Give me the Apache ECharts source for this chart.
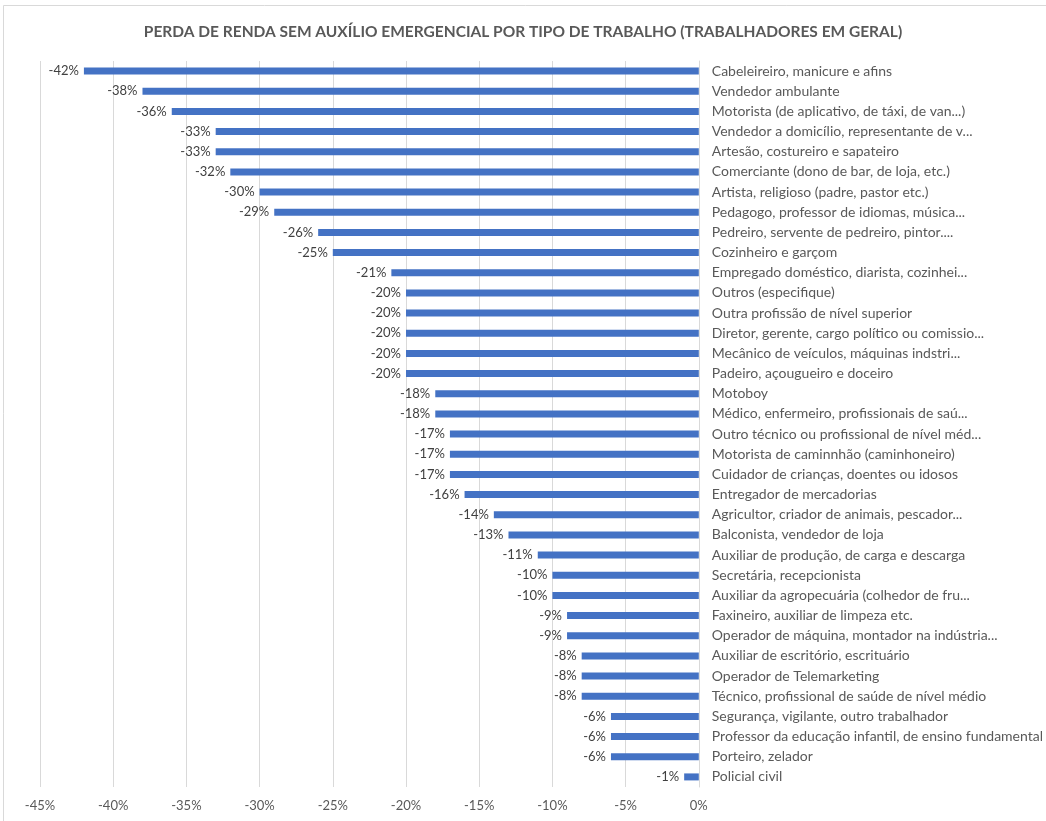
<!DOCTYPE html>
<html><head><meta charset="utf-8">
<script src="https://cdn.jsdelivr.net/npm/echarts@6/dist/echarts.min.js"></script>
<style>html,body{margin:0;padding:0;background:#fff}#c{width:1046px;height:821px}</style>
</head><body><div id="c"></div>
<script>
const titleText = 'PERDA DE RENDA SEM AUXÍLIO EMERGENCIAL POR TIPO DE TRABALHO (TRABALHADORES EM GERAL)';
const categories = [
  'Cabeleireiro, manicure e afins',
  'Vendedor ambulante',
  'Motorista (de aplicativo, de táxi, de van...)',
  'Vendedor a domicílio, representante de v...',
  'Artesão, costureiro e sapateiro',
  'Comerciante (dono de bar, de loja, etc.)',
  'Artista, religioso (padre, pastor etc.)',
  'Pedagogo, professor de idiomas, música...',
  'Pedreiro, servente de pedreiro, pintor....',
  'Cozinheiro e garçom',
  'Empregado doméstico, diarista, cozinhei...',
  'Outros (especifique)',
  'Outra profissão de nível superior',
  'Diretor, gerente, cargo político ou comissio...',
  'Mecânico de veículos, máquinas indstri...',
  'Padeiro, açougueiro e doceiro',
  'Motoboy',
  'Médico, enfermeiro, profissionais de saú...',
  'Outro técnico ou profissional de nível méd...',
  'Motorista de caminnhão (caminhoneiro)',
  'Cuidador de crianças, doentes ou idosos',
  'Entregador de mercadorias',
  'Agricultor, criador de animais, pescador...',
  'Balconista, vendedor de loja',
  'Auxiliar de produção, de carga e descarga',
  'Secretária, recepcionista',
  'Auxiliar da agropecuária (colhedor de fru...',
  'Faxineiro, auxiliar de limpeza etc.',
  'Operador de máquina, montador na indústria...',
  'Auxiliar de escritório, escrituário',
  'Operador de Telemarketing',
  'Técnico, profissional de saúde de nível médio',
  'Segurança, vigilante, outro trabalhador',
  'Professor da educação infantil, de ensino fundamental',
  'Porteiro, zelador',
  'Policial civil'
];
const values = [-42,-38,-36,-33,-33,-32,-30,-29,-26,-25,-21,-20,-20,-20,-20,-20,-18,-18,-17,-17,-17,-16,-14,-13,-11,-10,-10,-9,-9,-8,-8,-8,-6,-6,-6,-1];
const xMin = -45, xMax = 0, xStep = 5;

const chart = echarts.init(document.getElementById('c'), null, {renderer:'canvas'});
chart.setOption({
  animation:false,
  backgroundColor:'#fff',
  textStyle:{fontFamily:'Lato'},
  title:{text:titleText,left:'center',top:19,
    textStyle:{fontFamily:'Lato',fontSize:15.5,fontWeight:'bold',color:'#595959'}},
  graphic:[{type:'rect',shape:{x:3.5,y:5.5,width:1050,height:830},style:{fill:'none',stroke:'#d9d9d9',lineWidth:1},silent:true}],
  grid:{left:40,right:345,top:61,bottom:34,containLabel:false},
  xAxis:{type:'value',min:xMin,max:xMax,interval:xStep,
    axisLine:{show:false},axisTick:{show:false},
    axisLabel:{formatter:'{value}%',color:'#595959',fontSize:13,margin:12},
    splitLine:{lineStyle:{color:'#d9d9d9',width:1}}},
  yAxis:{type:'category',data:categories,inverse:true,position:'right',
    axisTick:{show:false},axisLine:{lineStyle:{color:'#d9d9d9'}},
    axisLabel:{color:'#595959',fontSize:14,margin:13,align:'left'}},
  series:[{type:'bar',data:values,barWidth:7,itemStyle:{color:'#4472C4'},
    label:{show:true,position:'left',distance:5,formatter:p=>p.value+'%',color:'#404040',fontSize:13}}]
});
</script></body></html>
